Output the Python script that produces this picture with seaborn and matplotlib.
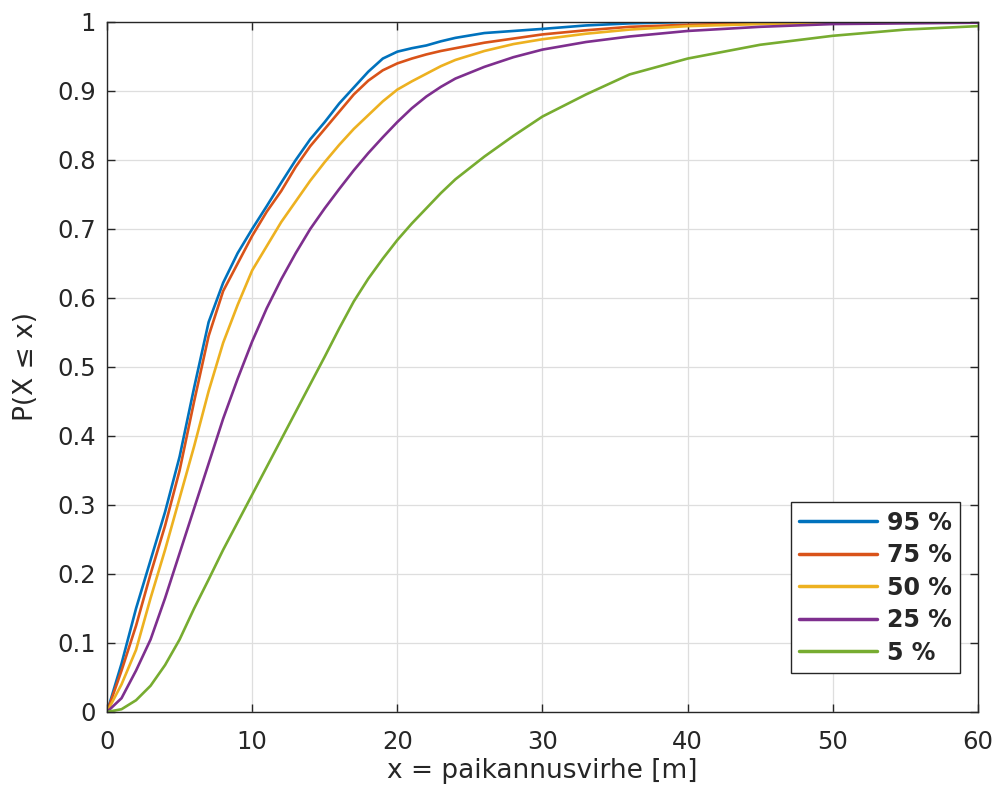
import numpy as np
import pandas as pd
import matplotlib
matplotlib.use("Agg")
import matplotlib.pyplot as plt
import seaborn as sns

x_vals = [0, 1, 2, 3, 4, 5, 6, 7, 8, 9, 10, 11, 12, 13, 14, 15, 16, 17, 18, 19,
          20, 21, 22, 23, 24, 26, 28, 30, 33, 36, 40, 45, 50, 55, 60]

p95 = [0, 0.07, 0.15, 0.22, 0.29, 0.37, 0.47, 0.565, 0.622, 0.665, 0.70, 0.733, 0.767,
       0.80, 0.83, 0.855, 0.882, 0.905, 0.928, 0.947, 0.957, 0.962, 0.966, 0.972, 0.977,
       0.984, 0.987, 0.990, 0.995, 0.998, 1.0, 1.0, 1.0, 1.0, 1.0]
p75 = [0, 0.06, 0.125, 0.20, 0.27, 0.35, 0.45, 0.545, 0.61, 0.65, 0.69, 0.725, 0.755,
       0.79, 0.82, 0.845, 0.87, 0.895, 0.915, 0.93, 0.94, 0.947, 0.953, 0.958, 0.962,
       0.970, 0.976, 0.982, 0.988, 0.993, 0.996, 0.998, 0.999, 1.0, 1.0]
p50 = [0, 0.04, 0.09, 0.165, 0.235, 0.31, 0.385, 0.465, 0.535, 0.59, 0.64, 0.675, 0.71,
       0.74, 0.77, 0.797, 0.822, 0.845, 0.865, 0.885, 0.902, 0.914, 0.925, 0.936, 0.945,
       0.958, 0.968, 0.975, 0.983, 0.989, 0.994, 0.997, 0.999, 1.0, 1.0]
p25 = [0, 0.02, 0.06, 0.105, 0.165, 0.23, 0.295, 0.36, 0.425, 0.483, 0.537, 0.585, 0.627,
       0.665, 0.70, 0.73, 0.758, 0.785, 0.81, 0.833, 0.855, 0.875, 0.892, 0.906, 0.918,
       0.935, 0.949, 0.960, 0.971, 0.979, 0.987, 0.993, 0.997, 0.998, 0.999]
p05 = [0, 0.004, 0.017, 0.038, 0.068, 0.105, 0.15, 0.192, 0.235, 0.275, 0.315, 0.355,
       0.395, 0.435, 0.475, 0.515, 0.556, 0.595, 0.628, 0.657, 0.684, 0.708, 0.73, 0.752,
       0.772, 0.805, 0.835, 0.863, 0.895, 0.924, 0.947, 0.967, 0.98, 0.989, 0.994]

series_names = ["95 %", "75 %", "50 %", "25 %", "5 %"]
series_vals = [p95, p75, p50, p25, p05]
colors = ["#0072BD", "#D95319", "#EDB120", "#7E2F8E", "#77AC30"]

x_ticks = [0, 10, 20, 30, 40, 50, 60]
y_ticks = [0, 0.1, 0.2, 0.3, 0.4, 0.5, 0.6, 0.7, 0.8, 0.9, 1.0]
y_ticklabels = ["0", "0.1", "0.2", "0.3", "0.4", "0.5", "0.6", "0.7", "0.8", "0.9", "1"]

df = pd.concat([pd.DataFrame({"x": x_vals, "p": v, "s": n})
                for n, v in zip(series_names, series_vals)], ignore_index=True)

sns.set_theme(style="whitegrid")
plt.rcParams['font.family'] = ['DejaVu Sans']

fig = plt.figure(figsize=(10.02, 7.94), dpi=100)
ax = fig.add_axes([0.1068, 0.1033, 0.976 - 0.1068, 0.9723 - 0.1033])

sns.lineplot(data=df, x="x", y="p", hue="s", hue_order=series_names,
             palette=dict(zip(series_names, colors)), linewidth=1.9, ax=ax,
             sort=False)

ax.set_xlim(0, 60)
ax.set_ylim(0, 1)
ax.set_xticks(x_ticks)
ax.set_xticklabels([str(t) for t in x_ticks])
ax.set_yticks(y_ticks)
ax.set_yticklabels(y_ticklabels)
ax.set_facecolor("white")
ax.grid(True, color="#dedede", linewidth=0.9)
for s in ax.spines.values():
    s.set_visible(True)
    s.set_color("#262626")
    s.set_linewidth(1.0)
ax.tick_params(axis="both", direction="in", length=6, width=1.0, color="#262626",
               labelsize=17.5, labelcolor="#262626", top=True, right=True,
               bottom=True, left=True)
ax.tick_params(axis="x", pad=13)
ax.tick_params(axis="y", pad=8)
ax.set_xlabel("x = paikannusvirhe [m]", fontsize=19, color="#262626")
ax.set_ylabel("P(X ≤ x)", fontsize=19, color="#262626")
ax.xaxis.set_label_coords(0.5, -0.067)
ax.yaxis.set_label_coords(-0.078, 0.5)

leg = ax.legend(loc="lower right", bbox_to_anchor=(0.979, 0.0565), frameon=True,
                fancybox=False, edgecolor="#262626", framealpha=1,
                prop={"weight": "bold", "size": 17}, handlelength=3.3,
                handletextpad=0.4, labelspacing=0.36, borderpad=0.35,
                borderaxespad=0, title=None)
leg.get_frame().set_linewidth(1.0)
for line in leg.get_lines():
    line.set_linewidth(2.5)

fig.savefig("out.png", dpi=100)
